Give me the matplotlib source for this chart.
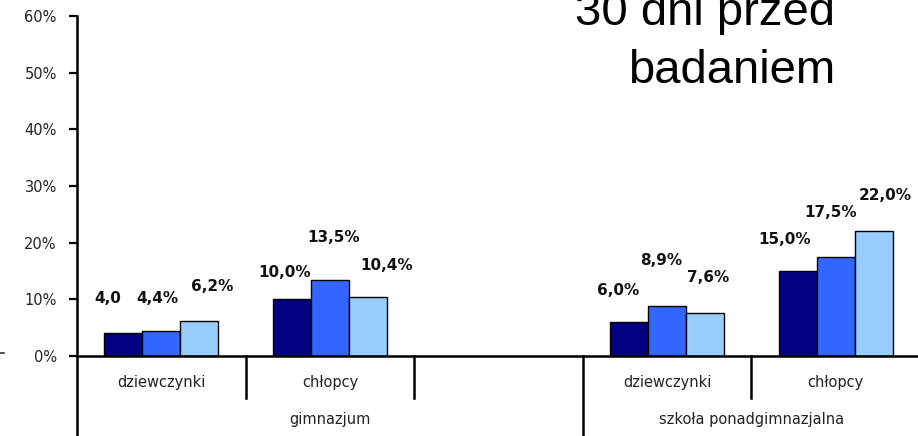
import matplotlib
matplotlib.use("Agg")
import matplotlib.pyplot as plt
from matplotlib.lines import Line2D
import numpy as np

# ---- data ----
categories = ["dziewczynki", "chłopcy", "", "dziewczynki", "chłopcy"]
groups = ["gimnazjum", "szkoła ponadgimnazjalna"]
group_spans = [(0, 2), (3, 4)]           # category index ranges for each group
series_a = [4.0, 10.0, None, 6.0, 15.0]   # dark navy
series_b = [4.4, 13.5, None, 8.9, 17.5]   # medium blue
series_c = [6.2, 10.4, None, 7.6, 22.0]   # light blue
labels_a = ["4,0", "10,0%", None, "6,0%", "15,0%"]
labels_b = ["4,4%", "13,5%", None, "8,9%", "17,5%"]
labels_c = ["6,2%", "10,4%", None, "7,6%", "22,0%"]
yticks = [0, 10, 20, 30, 40, 50, 60]
title_lines = ["30 dni przed", "badaniem"]

# ---- label placement (manually moved in original) ----
lab_dx = {
    "a": [-0.315, -0.268, 0, -0.292, -0.304],
    "b": [-0.024, 0.024, 0, -0.036, -0.030],
    "c": [0.304, 0.339, 0, 0.244, 0.292],
}
lab_y = {
    "a": [10.1, 14.8, 0, 11.6, 20.5],
    "b": [10.1, 21.0, 0, 16.9, 25.4],
    "c": [12.3, 15.9, 0, 13.9, 28.3],
}

colors = ["#000080", "#3366FF", "#99CCFF"]

fig = plt.figure(figsize=(9.18, 4.36), dpi=100)
ax = fig.add_axes([77 / 918, 1 - 356 / 436, 843 / 918, 340 / 436])

x = np.arange(len(categories))
w = 0.226
series = [("a", series_a, labels_a), ("b", series_b, labels_b), ("c", series_c, labels_c)]
for i, (key, vals, labs) in enumerate(series):
    xs = [xi + (i - 1) * w for xi, v in zip(x, vals) if v is not None]
    vs = [v for v in vals if v is not None]
    ax.bar(xs, vs, width=w, color=colors[i], edgecolor="black", linewidth=1.0, zorder=2)
    for j, (v, l) in enumerate(zip(vals, labs)):
        if v is None:
            continue
        ax.text(x[j] + lab_dx[key][j], lab_y[key][j], l, ha="center", va="center",
                fontsize=11, fontweight="bold", color="#111111", family="DejaVu Sans")

ax.set_xlim(-0.5, len(categories) - 0.5)
ax.set_ylim(0, 60)
ax.set_yticks(yticks)
ax.set_yticklabels([f"{t}%" for t in yticks], fontsize=10.5, color="#222222")
ax.tick_params(axis="y", direction="out", length=6, width=1.6, pad=8.5)
ax.set_xticks([])

for s in ["top", "right"]:
    ax.spines[s].set_visible(False)
ax.spines["left"].set_linewidth(1.8)
ax.spines["bottom"].set_linewidth(1.8)

trans = ax.get_xaxis_transform()
# category dividers
long_bounds = {-0.5, 2.5, 4.5}
for b in np.arange(-0.5, len(categories), 1.0):
    y0 = -0.235 if b in long_bounds else -0.1235
    ax.plot([b, b], [0, y0], transform=trans, color="black", lw=1.8, clip_on=False)

# category labels
for xi, c in zip(x, categories):
    if c:
        ax.text(xi, -0.077, c, transform=trans, ha="center", va="center",
                fontsize=10.5, color="#222222")

# group labels
for g, (a, b) in zip(groups, group_spans):
    ax.text((a + b) / 2, -0.188, g, transform=trans, ha="center", va="center",
            fontsize=10.5, color="#222222")

# title
fig.text(835 / 918, 1 - 25 / 436, title_lines[0], ha="right", va="baseline",
         fontsize=34, family="Liberation Sans", color="black")
fig.text(835 / 918, 1 - 83 / 436, title_lines[1], ha="right", va="baseline",
         fontsize=34, family="Liberation Sans", color="black")

# small stray dash at left edge
fig.add_artist(Line2D([0, 4 / 918], [1 - 353 / 436, 1 - 353 / 436], color="#333333", lw=1.2))

fig.savefig("out.png", dpi=100)
